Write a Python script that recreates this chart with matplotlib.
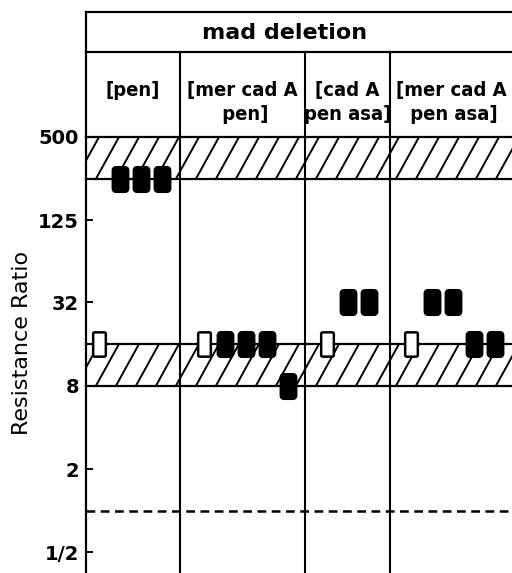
import numpy as np
import matplotlib.pyplot as plt
from matplotlib.path import Path
from matplotlib.patches import Rectangle
from matplotlib.ticker import NullLocator

# data
title = 'mad deletion'
groups = ['[pen]', '[mer cad A\n pen]', '[cad A\npen asa]', '[mer cad A\n pen asa]']
values = [[16, 250, 250, 250],
          [16, 16, 16, 16, 8],
          [16, 32, 32],
          [16, 32, 32, 16, 16]]
kinds = [['open', 'filled', 'filled', 'filled'],
         ['open', 'filled', 'filled', 'filled', 'filled'],
         ['open', 'filled', 'filled'],
         ['open', 'filled', 'filled', 'filled', 'filled']]
bands = [(250, 500), (8, 16)]
ref_level = 1
ytick_vals = [500, 125, 32, 8, 2, 0.5]
ytick_labels = ['500', '125', '32', '8', '2', '1/2']

# layout (pixel-like units across the plot width)
W = 426
col_edges = [0, 94, 219, 304, W]
first_offset = [13, 24, 22, 21]
slot = 21
title_x = 199


def box_marker(w, h, r):
    pts = []
    corners = [(w / 2 - r, h / 2 - r, 0), (-w / 2 + r, h / 2 - r, 90),
               (-w / 2 + r, -h / 2 + r, 180), (w / 2 - r, -h / 2 + r, 270)]
    for cx, cy, a0 in corners:
        t = np.radians(np.linspace(a0, a0 + 90, 6))
        pts += list(zip(cx + r * np.cos(t), cy + r * np.sin(t)))
    pts.append(pts[0])
    return Path(pts, closed=True)


filled_marker = box_marker(16, 25, 3.5)
open_marker = box_marker(12.5, 24, 1.5)

fig = plt.figure(figsize=(5.12, 5.73), dpi=100)
ax = fig.add_axes([86 / 512, 0, W / 512, 436 / 573])
hax = fig.add_axes([86 / 512, 436 / 573, W / 512, 125 / 573])

# main panel
ax.set_yscale('log', base=2)
ax.set_ylim(0.355, 500)
ax.set_xlim(0, W)
for s in ['top', 'right', 'bottom']:
    ax.spines[s].set_visible(False)
ax.spines['left'].set_linewidth(1.6)
ax.set_xticks([])
ax.set_yticks(ytick_vals, ytick_labels)
ax.yaxis.set_minor_locator(NullLocator())
ax.tick_params(axis='y', direction='in', length=5, width=1.4, labelsize=14, pad=5)
for lab in ax.get_yticklabels():
    lab.set_fontweight('bold')
ax.set_ylabel('Resistance Ratio', fontsize=16)
ax.yaxis.set_label_coords(-0.127, 0.528)

# hatched bands
for lo, hi in bands:
    rect = Rectangle((0, lo), W, hi - lo, facecolor='none', edgecolor='none')
    ax.add_patch(rect)
    for x0 in np.arange(-30, W + 20, 20):
        ln, = ax.plot([x0, x0 + 23], [lo, hi], color='k', lw=1.4)
        ln.set_clip_path(rect)
    ax.plot([0, W], [lo, lo], color='k', lw=1.6, clip_on=False)
    ax.plot([0, W], [hi, hi], color='k', lw=1.6, clip_on=False)

ax.axhline(ref_level, color='k', lw=1.8, ls=(0, (3.5, 2.2)))

for xe in col_edges[1:-1]:
    ax.axvline(xe, color='k', lw=1.5)

# markers
for g in range(len(groups)):
    for i, (v, k) in enumerate(zip(values[g], kinds[g])):
        x = col_edges[g] + first_offset[g] + slot * i
        if k == 'filled':
            ax.plot(x, v, marker=filled_marker, ms=18.5, mfc='k', mec='k', mew=1, zorder=5)
        else:
            ax.plot(x, v, marker=open_marker, ms=17.5, mfc='white', mec='k', mew=1.8, zorder=5)

# header boxes
hax.set_xlim(0, W)
hax.set_ylim(125, 0)
hax.axis('off')
hax.plot([0, W], [0, 0], color='k', lw=1.6, clip_on=False)
hax.plot([0, W], [40, 40], color='k', lw=1.6, clip_on=False)
hax.plot([0, 0], [0, 125], color='k', lw=1.6, clip_on=False)
for xe in col_edges[1:-1]:
    hax.plot([xe, xe], [40, 125], color='k', lw=1.5, clip_on=False)
hax.text(title_x, 21, title, ha='center', va='center', fontsize=16, fontweight='bold')
for g, label in enumerate(groups):
    xc = (col_edges[g] + col_edges[g + 1]) / 2
    hax.text(xc, 69, label, ha='center', va='top', fontsize=14.5, fontweight='bold',
             fontstretch='condensed', multialignment='center', linespacing=1.3)

fig.savefig('out.png', dpi=100)
